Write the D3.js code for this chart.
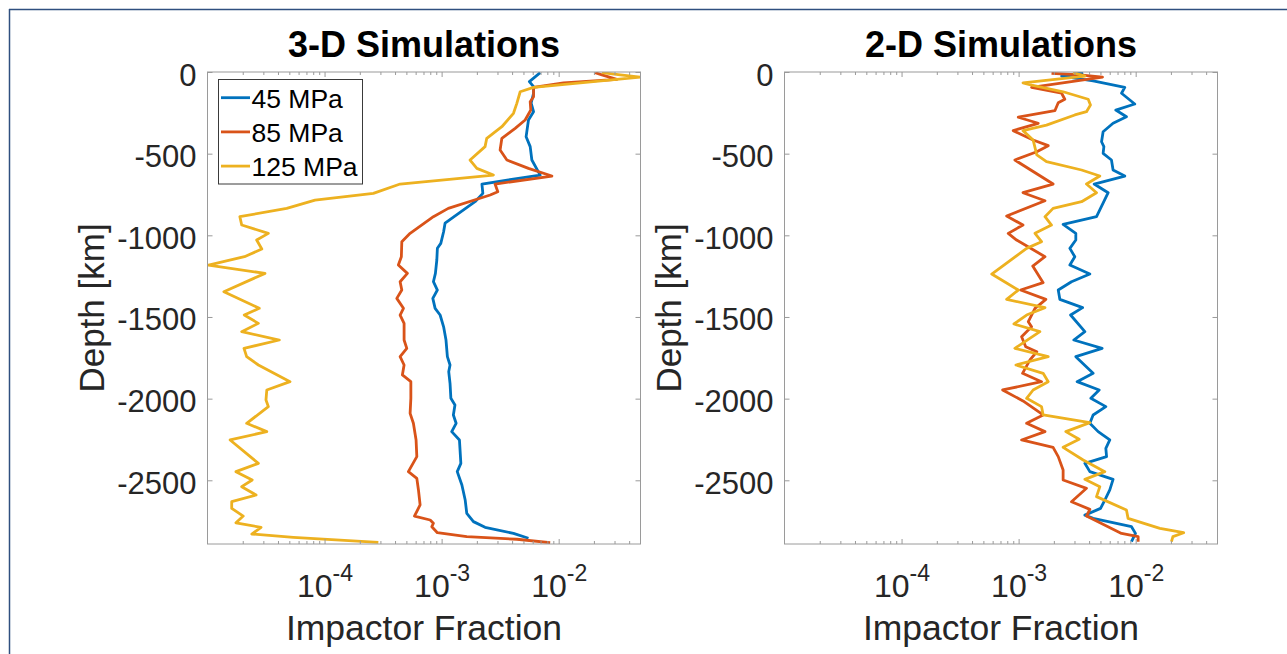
<!DOCTYPE html>
<html><head><meta charset="utf-8">
<script src="https://cdn.jsdelivr.net/npm/d3@7"></script>
<style>
html,body{margin:0;padding:0;background:#fff;}
svg{display:block;font-family:"Liberation Sans",Arial,Helvetica,sans-serif;}
</style></head><body>
<svg id="fig" width="1287" height="654"></svg>
<script>
// ---- data -------------------------------------------------------------
const seriesNames = ["45 MPa", "85 MPa", "125 MPa"];
const seriesColors = ["#0072BD", "#D95319", "#EDB120"];
const panelTitles = ["3-D Simulations", "2-D Simulations"];
const yTickValues = [0, -500, -1000, -1500, -2000, -2500];
const xTickExponents = [-4, -3, -2];
const depthLimits = [-2890, 0];
const fractionLimits = [1e-5, 0.05];

// 3-D simulations: depth (km) and impactor fraction
const depth3D_45 = [4,59,90,130,190,243,294,396,457,539,631,686,743,794,926,978,1049,1079,1151,1233,1284,1335,1386,1447,1488,1560,1641,1743,1794,1835,1906,1998,2039,2100,2151,2202,2253,2396,2447,2529,2621,2702,2753,2788,2825,2855];
const frac3D_45 = [0.00695,0.00562,0.00610,0.00610,0.00582,0.00610,0.00552,0.00527,0.00571,0.00590,0.00695,0.00221,0.00225,0.00193,0.00107,0.00104,0.000984,0.000920,0.000910,0.000885,0.000851,0.000920,0.000841,0.000880,0.000971,0.00104,0.00109,0.00112,0.00118,0.00115,0.00118,0.00120,0.00130,0.00126,0.00133,0.00122,0.00142,0.00146,0.00136,0.00149,0.00159,0.00164,0.00187,0.00235,0.00411,0.00552];

const depth3D_85 = [4,18,45,66,94,151,182,233,294,345,406,478,539,590,637,686,733,753,835,886,988,1039,1131,1182,1233,1284,1335,1386,1447,1488,1539,1641,1692,1743,1794,1855,1896,1998,2090,2151,2253,2355,2447,2488,2559,2651,2719,2743,2763,2784,2821,2845,2861,2882];
const frac3D_85 = [0.0205,0.0234,0.0314,0.0110,0.00610,0.00610,0.00571,0.00578,0.00517,0.00425,0.00327,0.00316,0.00361,0.00552,0.00875,0.00286,0.00302,0.00260,0.00114,0.000851,0.000538,0.000457,0.000453,0.000427,0.000510,0.000442,0.000457,0.000414,0.000472,0.000442,0.000478,0.000478,0.000504,0.000442,0.000478,0.000462,0.000546,0.000546,0.000538,0.000574,0.000605,0.000614,0.000520,0.000614,0.000634,0.000655,0.000586,0.000798,0.000851,0.000825,0.000920,0.00164,0.00439,0.00846];

const depth3D_125 = [4,18,32,94,121,192,253,335,406,457,539,590,631,686,743,784,835,886,937,988,1029,1084,1131,1182,1233,1345,1447,1488,1539,1590,1641,1692,1743,1794,1896,1947,2008,2049,2151,2202,2253,2396,2447,2498,2539,2590,2631,2672,2719,2760,2788,2829,2849,2880];
const frac3D_125 = [0.0234,0.0336,0.0497,0.00610,0.00469,0.00439,0.00411,0.00327,0.00243,0.00235,0.00175,0.00200,0.00277,0.000442,0.000261,0.0000829,0.0000475,0.0000189,0.0000196,0.0000331,0.0000263,0.0000291,0.0000207,0.0000102,0.0000310,0.0000138,0.0000277,0.0000206,0.0000272,0.0000196,0.0000411,0.0000205,0.0000216,0.0000272,0.0000507,0.0000321,0.0000316,0.0000331,0.0000216,0.0000321,0.0000156,0.0000272,0.0000175,0.0000241,0.0000196,0.0000260,0.0000161,0.0000161,0.0000202,0.0000175,0.0000287,0.0000239,0.0000541,0.000288];

// 2-D simulations: depth (km) and impactor fraction
const depth2D_45 = [4,25,55,94,130,196,233,274,314,366,427,457,498,539,600,637,686,739,886,933,988,1029,1080,1131,1182,1237,1284,1335,1392,1443,1488,1590,1641,1692,1743,1845,1896,1947,1998,2049,2100,2151,2202,2253,2304,2355,2396,2447,2494,2559,2621,2672,2713,2733,2784,2825,2876];
const frac2D_45 = [0.00356,0.00233,0.00433,0.00807,0.00757,0.00982,0.00676,0.00834,0.00641,0.00527,0.00511,0.00535,0.00527,0.00621,0.00641,0.00807,0.00442,0.00582,0.00463,0.00240,0.00308,0.00308,0.00274,0.00302,0.00274,0.00406,0.00283,0.00218,0.00225,0.00352,0.00278,0.00368,0.00296,0.00517,0.00308,0.00433,0.00316,0.00488,0.00414,0.00556,0.00433,0.00406,0.00478,0.00601,0.00556,0.00564,0.00368,0.00406,0.00641,0.00601,0.00545,0.00501,0.00368,0.00433,0.00921,0.00996,0.00921];

const depth2D_85 = [8,18,32,94,130,167,188,237,277,314,359,416,451,488,539,686,739,788,882,937,988,1029,1131,1188,1290,1335,1392,1447,1529,1560,1621,1682,1713,1763,1845,1896,1947,2014,2100,2151,2202,2253,2298,2355,2437,2498,2549,2631,2678,2719,2825,2845,2876];
const frac2D_85 = [0.00191,0.00333,0.00521,0.00129,0.00233,0.00248,0.00218,0.00204,0.000993,0.00147,0.000899,0.00133,0.00179,0.00143,0.000929,0.00197,0.00109,0.00168,0.000790,0.00109,0.000815,0.000961,0.00168,0.00132,0.00162,0.00104,0.00171,0.00138,0.00121,0.00129,0.00106,0.00115,0.00143,0.00125,0.00108,0.00157,0.000730,0.00109,0.00162,0.00117,0.00168,0.00106,0.00197,0.00218,0.00240,0.00240,0.00380,0.00283,0.00406,0.00380,0.00757,0.0105,0.0105];

const depth2D_125 = [4,25,66,80,121,167,202,243,263,325,359,416,508,549,600,637,686,739,794,835,886,937,988,1039,1080,1237,1335,1392,1443,1488,1543,1590,1692,1743,1794,1845,1896,1947,1998,2049,2100,2147,2202,2249,2298,2376,2447,2494,2539,2600,2682,2733,2794,2821,2845,2876];
const frac2D_125 = [0.00292,0.00368,0.00109,0.00129,0.00240,0.00393,0.00411,0.00380,0.00302,0.00173,0.00109,0.00133,0.00143,0.00173,0.00345,0.00494,0.00380,0.00463,0.00345,0.00197,0.00168,0.00191,0.00138,0.00157,0.00117,0.000589,0.000993,0.000790,0.00168,0.00117,0.000912,0.00152,0.000929,0.00179,0.000948,0.00162,0.00179,0.00133,0.00117,0.00157,0.00162,0.00406,0.00253,0.00329,0.00240,0.00356,0.00545,0.00368,0.00494,0.00463,0.00834,0.00861,0.0161,0.0257,0.0208,0.0202];

const panelSeries = [
  [[depth3D_45, frac3D_45], [depth3D_85, frac3D_85], [depth3D_125, frac3D_125]],
  [[depth2D_45, frac2D_45], [depth2D_85, frac2D_85], [depth2D_125, frac2D_125]]
];

// ---- layout -----------------------------------------------------------
const plotLefts = [207.5, 784.5];
const plotW = 433, plotTop = 72, plotBottom = 544;
const axisGray = "#9a9a9a", textColor = "#262626";

const svg = d3.select("#fig");

// figure frame
svg.append("line").attr("x1", 9).attr("x2", 1287).attr("y1", 9.5).attr("y2", 9.5)
  .attr("stroke", "#2f4f7f").attr("stroke-width", 1.5);
svg.append("line").attr("x1", 9.5).attr("x2", 9.5).attr("y1", 9).attr("y2", 654)
  .attr("stroke", "#2f4f7f").attr("stroke-width", 1.5);

panelSeries.forEach((series, pi) => {
  const left = plotLefts[pi];
  const x = d3.scaleLog().domain(fractionLimits).range([left, left + plotW]);
  const y = d3.scaleLinear().domain(depthLimits).range([plotBottom, plotTop]);
  const g = svg.append("g");

  const clipId = "clip" + pi;
  svg.append("clipPath").attr("id", clipId).append("rect")
    .attr("x", left).attr("y", plotTop).attr("width", plotW).attr("height", plotBottom - plotTop);

  // profiles
  const line = d3.line().x(d => x(d[1])).y(d => y(-d[0]));
  series.forEach(([dep, frac], si) => {
    const pts = dep.map((d, k) => [d, frac[k]]);
    g.append("path").datum(pts)
      .attr("clip-path", `url(#${clipId})`)
      .attr("fill", "none").attr("stroke", seriesColors[si])
      .attr("stroke-width", 2.8).attr("stroke-linejoin", "round")
      .attr("d", line);
  });

  // axes box
  g.append("rect").attr("x", left).attr("y", plotTop)
    .attr("width", plotW).attr("height", plotBottom - plotTop)
    .attr("fill", "none").attr("stroke", axisGray).attr("stroke-width", 1);

  const majorX = xTickExponents.map(e => Math.pow(10, e));
  const minorX = x.ticks().filter(v => {
    const m = v / Math.pow(10, Math.floor(Math.log10(v) + 1e-9));
    return Math.abs(m - 1) > 1e-6 && v > fractionLimits[0] && v < fractionLimits[1] * 0.999;
  });

  const styleAxis = sel => {
    sel.select(".domain").remove();
    sel.selectAll(".tick line").attr("stroke", axisGray);
  };

  // bottom / top ticks (inside)
  g.append("g").attr("transform", `translate(0,${plotBottom})`)
    .call(d3.axisBottom(x).tickValues(minorX).tickSize(-3).tickFormat(""))
    .call(styleAxis);
  g.append("g").attr("transform", `translate(0,${plotTop})`)
    .call(d3.axisTop(x).tickValues(minorX).tickSize(-3).tickFormat(""))
    .call(styleAxis);
  g.append("g").attr("transform", `translate(0,${plotTop})`)
    .call(d3.axisTop(x).tickValues(majorX).tickSize(-5).tickFormat(""))
    .call(styleAxis);
  const xb = g.append("g").attr("transform", `translate(0,${plotBottom})`)
    .call(d3.axisBottom(x).tickValues(majorX).tickSize(-5).tickFormat(""))
    .call(styleAxis);
  xb.selectAll(".tick").each(function (v) {
    const t = d3.select(this).append("text")
      .attr("y", 53).attr("text-anchor", "middle")
      .attr("fill", textColor).attr("font-size", 32);
    t.append("tspan").text("10");
    t.append("tspan").attr("dy", -16).attr("font-size", 23)
      .text(String(Math.round(Math.log10(v))));
  });

  // left / right ticks
  const yl = g.append("g").attr("transform", `translate(${left},0)`)
    .call(d3.axisLeft(y).tickValues(yTickValues).tickSize(-5).tickPadding(11)
      .tickFormat(d => String(d)))
    .call(styleAxis);
  yl.selectAll(".tick text").attr("dy", 13).attr("fill", textColor)
    .attr("font-size", 31).attr("font-family", null);
  g.append("g").attr("transform", `translate(${left + plotW},0)`)
    .call(d3.axisRight(y).tickValues(yTickValues).tickSize(-5).tickFormat(""))
    .call(styleAxis);

  // labels
  const cx = left + plotW / 2;
  g.append("text").attr("x", cx).attr("y", 57).attr("text-anchor", "middle")
    .attr("font-weight", "bold").attr("font-size", 36).attr("fill", "#000")
    .text(panelTitles[pi]);
  g.append("text").attr("x", cx).attr("y", 640).attr("text-anchor", "middle")
    .attr("font-size", 35.5).attr("fill", textColor).text("Impactor Fraction");
  g.append("text")
    .attr("transform", `translate(${left - 103.5},${(plotTop + plotBottom) / 2}) rotate(-90)`)
    .attr("text-anchor", "middle").attr("font-size", 35).attr("fill", textColor)
    .text("Depth [km]");

  // legend (left panel only)
  if (pi === 0) {
    const lg = g.append("g");
    lg.append("rect").attr("x", 218.5).attr("y", 79.5).attr("width", 144).attr("height", 104.5)
      .attr("fill", "#fff").attr("stroke", "#3a3a3a").attr("stroke-width", 1);
    seriesNames.forEach((name, si) => {
      const cy = 97.7 + si * 34.2;
      lg.append("line").attr("x1", 221).attr("x2", 250).attr("y1", cy).attr("y2", cy)
        .attr("stroke", seriesColors[si]).attr("stroke-width", 2.8);
      lg.append("text").attr("x", 251.5).attr("y", cy + 9.8)
        .attr("font-size", 26.5).attr("fill", "#000").text(name);
    });
  }
});
</script>
</body></html>
